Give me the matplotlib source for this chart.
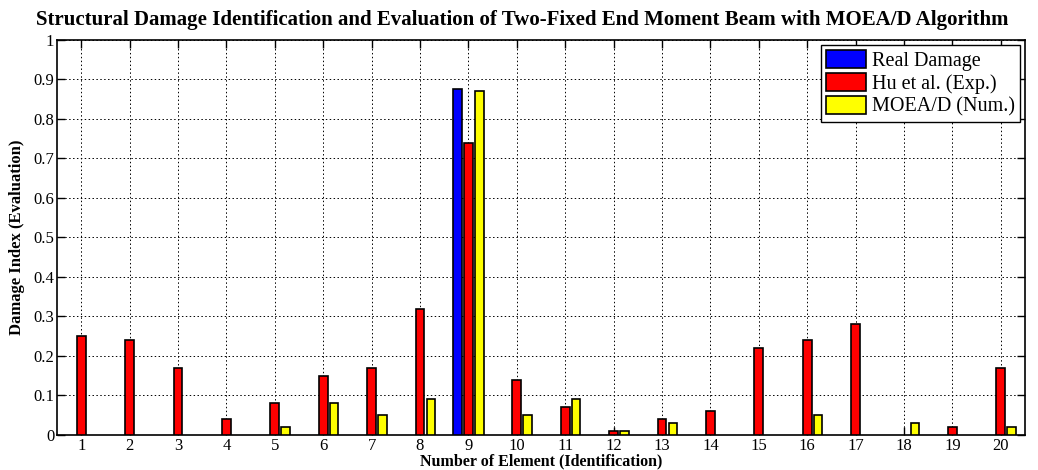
import numpy as np
import matplotlib
matplotlib.use("Agg")
import matplotlib.pyplot as plt

elements = np.arange(1, 21)
real_damage = [0, 0, 0, 0, 0, 0, 0, 0, 0.875, 0, 0, 0, 0, 0, 0, 0, 0, 0, 0, 0]
hu_exp = [0.25, 0.24, 0.17, 0.04, 0.08, 0.15, 0.17, 0.32, 0.74, 0.14,
          0.07, 0.01, 0.04, 0.06, 0.22, 0.24, 0.28, 0.0, 0.02, 0.17]
moead_num = [0, 0, 0, 0, 0.02, 0.08, 0.05, 0.09, 0.87, 0.05,
             0.09, 0.01, 0.03, 0, 0, 0.05, 0, 0.03, 0, 0.02]
labels = ["Real Damage", "Hu et al. (Exp.)", "MOEA/D (Num.)"]
colors = ["#0000ff", "#ff0000", "#ffff00"]

plt.rcParams["font.family"] = ["Liberation Serif", "DejaVu Serif"]

fig = plt.figure(figsize=(10.38, 4.70), dpi=100)
ax = fig.add_axes([0.0549, 0.0745, 0.9326, 0.8405])

w = 0.18
off = 0.225
for i, (vals, lab, c) in enumerate(zip([real_damage, hu_exp, moead_num], labels, colors)):
    v = np.array(vals, dtype=float)
    x = elements + (i - 1) * off
    mask = v > 0
    ax.bar(x[mask], v[mask], width=w, color=c, edgecolor="black",
           linewidth=1.2, label=lab, zorder=3)

ax.set_xlim(0.5, 20.5)
ax.set_ylim(0, 1)
ax.set_xticks(elements)
ax.set_yticks(np.arange(0, 1.01, 0.1))
ax.set_yticklabels(["0", "0.1", "0.2", "0.3", "0.4", "0.5", "0.6", "0.7", "0.8", "0.9", "1"])
ax.grid(True, color="black", linestyle=(0, (1.5, 2.5)), linewidth=0.7, zorder=0)
ax.tick_params(direction="in", top=True, right=True, length=6, labelsize=12, width=1, pad=2)
for s in ax.spines.values():
    s.set_linewidth(1.2)

fig.text(0.503, 0.957, "Structural Damage Identification and Evaluation of Two-Fixed End Moment Beam with MOEA/D Algorithm",
         fontsize=15, fontweight="bold", ha="center", va="center")
ax.set_xlabel("Number of Element (Identification)", fontsize=11.5, fontweight="bold", labelpad=0)
ax.set_ylabel("Damage Index (Evaluation)", fontsize=12, fontweight="bold", labelpad=6)

leg = ax.legend(loc="upper right", fontsize=14.5, fancybox=False, framealpha=1,
                edgecolor="black", handlelength=2.0, handleheight=1.0,
                borderpad=0.25, labelspacing=0.1, handletextpad=0.3,
                borderaxespad=0, bbox_to_anchor=(0.995, 0.988))
leg.get_frame().set_linewidth(1.0)

fig.savefig("out.png", dpi=100)
